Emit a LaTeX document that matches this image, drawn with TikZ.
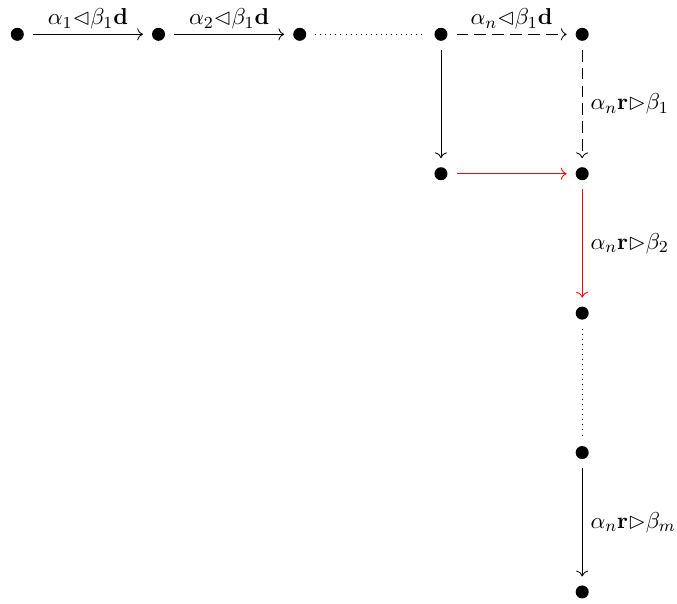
\documentclass[tikz,border=0pt]{standalone}
\usepackage{amssymb}
\usetikzlibrary{arrows.meta}
\begin{document}
\begin{tikzpicture}[x=67.24pt,y=66.38pt,
  >={To[scale=1.1]},
  dot/.style={circle,fill=black,inner sep=0pt,minimum size=6.2pt,outer sep=4.3pt},
  arr/.style={->},
  dasharr/.style={->,dash pattern=on 5.6pt off 2.9pt},
  dotline/.style={dotted},
  redarr/.style={->,red},
  lab/.style={inner sep=2.2pt,font=\fontsize{10.9}{13}\selectfont},
  rlab/.style={lab,right,inner sep=3.8pt}]
\useasboundingbox (-8.24pt,16.33pt) rectangle (314.1pt,-270.8pt);
\node[dot] (a1) at (0,0) {};
\node[dot] (a2) at (1,0) {};
\node[dot] (a3) at (2,0) {};
\node[dot] (a4) at (3,0) {};
\node[dot] (a5) at (4,0) {};
\node[dot] (b4) at (3,-1) {};
\node[dot] (b5) at (4,-1) {};
\node[dot] (c5) at (4,-2) {};
\node[dot] (d5) at (4,-3) {};
\node[dot] (e5) at (4,-4) {};
\draw[arr] (a1) -- node[lab,above] {$\alpha_1{\lhd}\beta_1\mathbf{d}$} (a2);
\draw[arr] (a2) -- node[lab,above] {$\alpha_2{\lhd}\beta_1\mathbf{d}$} (a3);
\draw[dotline] (a3) -- (a4);
\draw[dasharr] (a4) -- node[lab,above] {$\alpha_n{\lhd}\beta_1\mathbf{d}$} (a5);
\draw[dasharr] (a5) -- node[rlab] {$\alpha_n\mathbf{r}{\rhd}\beta_1$} (b5);
\draw[arr] (a4) -- (b4);
\draw[redarr] (b4) -- (b5);
\draw[redarr] (b5) -- node[rlab,text=black] {$\alpha_n\mathbf{r}{\rhd}\beta_2$} (c5);
\draw[dotline] (c5) -- (d5);
\draw[arr] (d5) -- node[rlab] {$\alpha_n\mathbf{r}{\rhd}\beta_m$} (e5);
\end{tikzpicture}
\end{document}
